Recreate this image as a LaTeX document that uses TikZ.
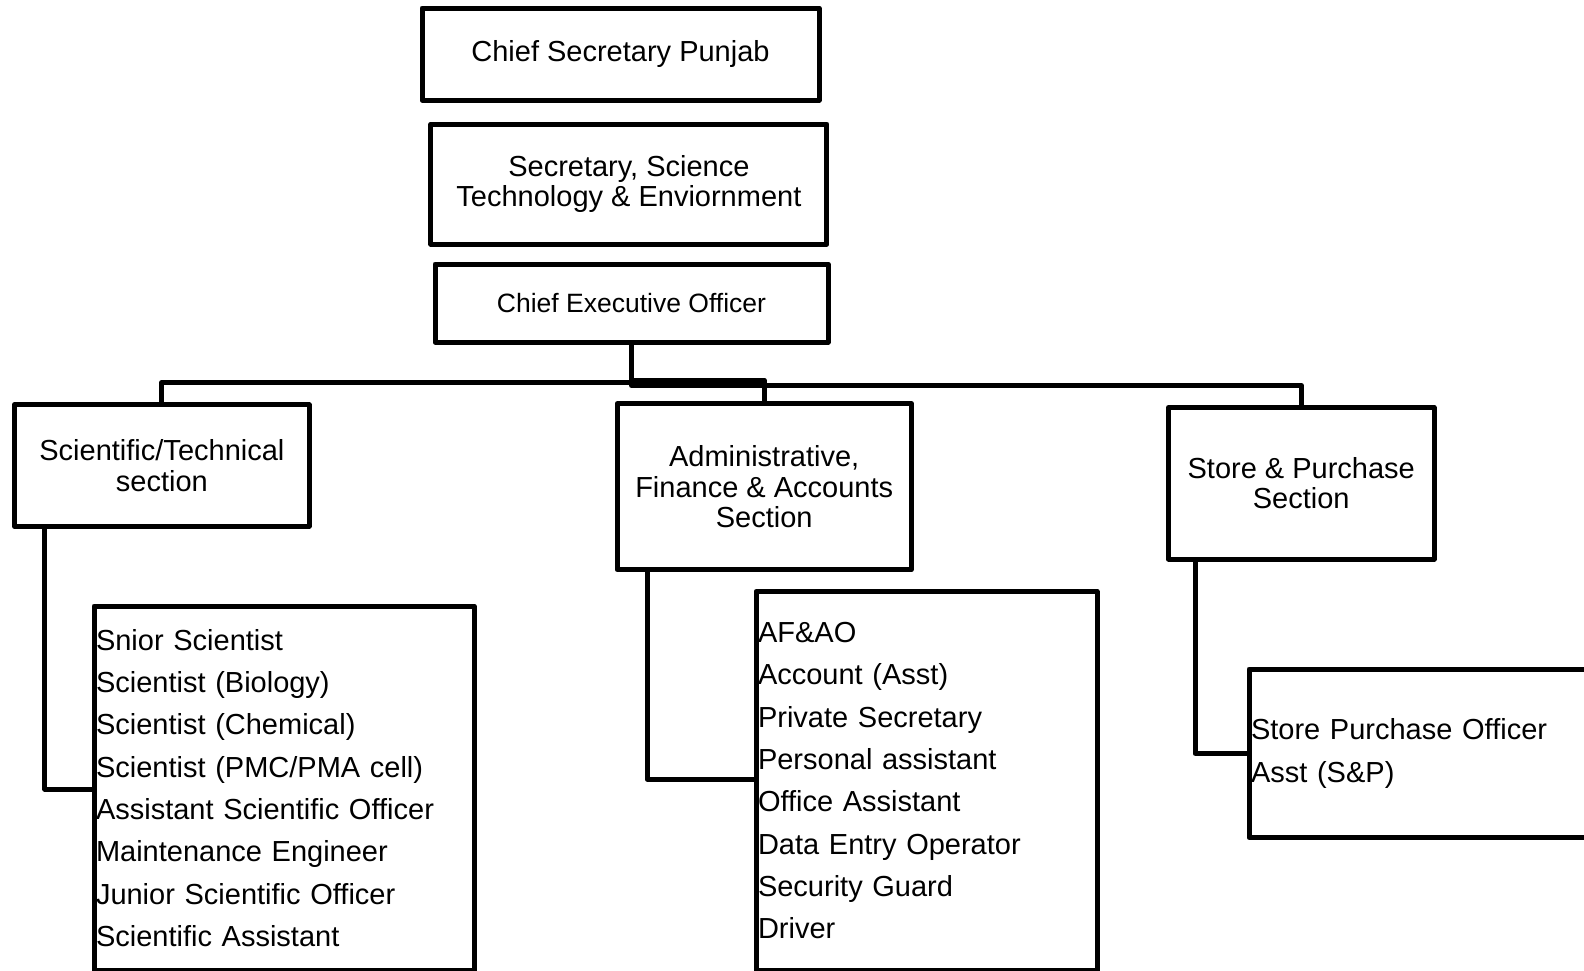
\documentclass[tikz,border=0pt]{standalone}
\usepackage{fontspec}
\setmainfont{Liberation Sans}
\begin{document}
\begin{tikzpicture}[x=1pt,y=-1pt,
  box/.style={draw, line width=5pt, line join=round, inner sep=0pt, outer sep=0pt,
    align=center, font=\fontsize{29}{30.5}\selectfont},
  listbox/.style={draw, line width=5pt, line join=round, inner xsep=2pt, inner ysep=0pt,
    outer sep=0pt, align=left, font=\fontsize{29}{42.3}\selectfont},
  link/.style={line width=5pt, line join=round}]
\useasboundingbox (0,0) rectangle (1584,970);
\fill[white] (0,0) rectangle (1584,970);

\node[box, minimum width=397pt, minimum height=92pt] (cs) at (620.5,54) {Chief Secretary Punjab};
\node[box, minimum width=396pt, minimum height=120pt] (ste) at (628.9,184) {Secretary, Science\\Technology \& Enviornment};
\node[box, minimum width=393pt, minimum height=78pt, font=\fontsize{26.5}{28}\selectfont] (ceo) at (631.5,303) {Chief Executive Officer};

\node[box, minimum width=294.3pt, minimum height=121.6pt] (sci) at (161.9,465.5) {Scientific/Technical\\section};
\node[box, minimum width=294.3pt, minimum height=166pt] (adm) at (764.2,486.7) {Administrative,\\Finance \& Accounts\\Section};
\node[box, minimum width=265.5pt, minimum height=151.5pt] (sto) at (1301.25,483.25) {Store \& Purchase\\Section};

\node[listbox, text width=376pt, minimum height=364pt] (scil) at (284,788) {Snior Scientist\\Scientist (Biology)\\Scientist (Chemical)\\Scientist (PMC/PMA cell)\\Assistant Scientific Officer\\Maintenance Engineer\\Junior Scientific Officer\\Scientific Assistant};
\node[listbox, text width=337pt, minimum height=378.7pt] (adml) at (926.5,780.7) {AF\&AO\\Account (Asst)\\Private Secretary\\Personal assistant\\Office Assistant\\Data Entry Operator\\Security Guard\\Driver};
\node[listbox, text width=335pt, minimum height=168.5pt, font=\fontsize{29}{43}\selectfont] (stol) at (1418.5,753.25) {Store Purchase Officer\\Asst (S\&P)};

\draw[link] (ceo.south) -- ++(0,38.3) -| (adm.north);
\draw[link] (ceo.south) -- ++(0,40.5) -| (sci.north);
\draw[link] (ceo.south) -- ++(0,43.5) -| (sto.north);

\draw[link] ([xshift=30pt]sci.south west) |- ([yshift=-1pt]scil.west);
\draw[link] ([xshift=30pt]adm.south west) |- ([yshift=1.7pt]adml.west);
\draw[link] ([xshift=26.5pt]sto.south west) |- (stol.west);
\end{tikzpicture}
\end{document}
